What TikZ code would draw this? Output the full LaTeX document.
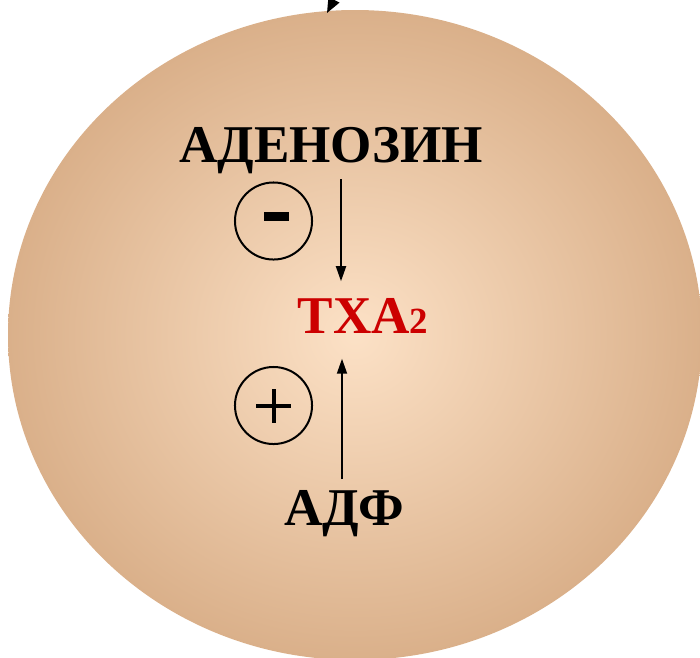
\documentclass[tikz,border=0pt]{standalone}
\usepackage{fontspec}
\setmainfont{Liberation Serif}
\usetikzlibrary{arrows.meta}
\definecolor{cellin}{RGB}{252,225,198}
\definecolor{cellout}{RGB}{218,176,138}
\definecolor{txared}{RGB}{204,0,0}
\pgfdeclareradialshading{cell}{\pgfpoint{0bp}{0bp}}{color(0bp)=(cellin); color(25bp)=(cellout); color(50bp)=(cellout)}
\begin{document}
\begin{tikzpicture}[x=0.01cm, y=-0.01cm, line join=round, >={Triangle[length=0.15cm,width=0.1cm]},
	lbl/.style={inner sep=0pt, anchor=base, font=\fontsize{15.1}{18}\selectfont\bfseries},
	sign/.style={draw, line width=0.02cm, circle, minimum size=0.77cm, inner sep=0pt}]
				\useasboundingbox (0,0) rectangle (700,657);
				\clip (0,0) rectangle (700,657);
				\shade[shading=cell] (355,335) ellipse [x radius=347, y radius=325];
				\path (338,-8) coordinate (topin) (327,13) coordinate (toptip);
				\draw[line width=0.018cm, -{Triangle[length=0.15cm,width=0.12cm]}] (topin)--(toptip);
				\node[lbl] (aden) at (331,162) {АДЕНОЗИН};
				\node[lbl, anchor=base west, text=txared] (txa) at (297,333) {ТХА{\fontsize{10.5}{12}\selectfont 2}};
				\node[lbl] (adf) at (344,525) {АДФ};
				\node[sign] (minus) at (273.5,221) {};
				\node[sign] (plus) at (273.5,405.5) {};
				\fill ([shift={(-9.5,-9.5)}]minus.center) rectangle ([shift={(15.5,-0.5)}]minus.center);
				\draw[line width=0.04cm] ([xshift=-0.17cm]plus.center)--([xshift=0.17cm]plus.center) ([yshift=-0.17cm]plus.center)--([yshift=0.17cm]plus.center);
				\draw[->, line width=0.018cm, shorten <=0.05cm, shorten >=0.16cm] (aden.south -| 341,0)--(txa.north -| 341,0);
				\draw[->, line width=0.018cm, shorten <=0.1cm, shorten >=0.25cm] (adf.north -| 342,0)--(txa.south -| 342,0);
\end{tikzpicture}
\end{document}
